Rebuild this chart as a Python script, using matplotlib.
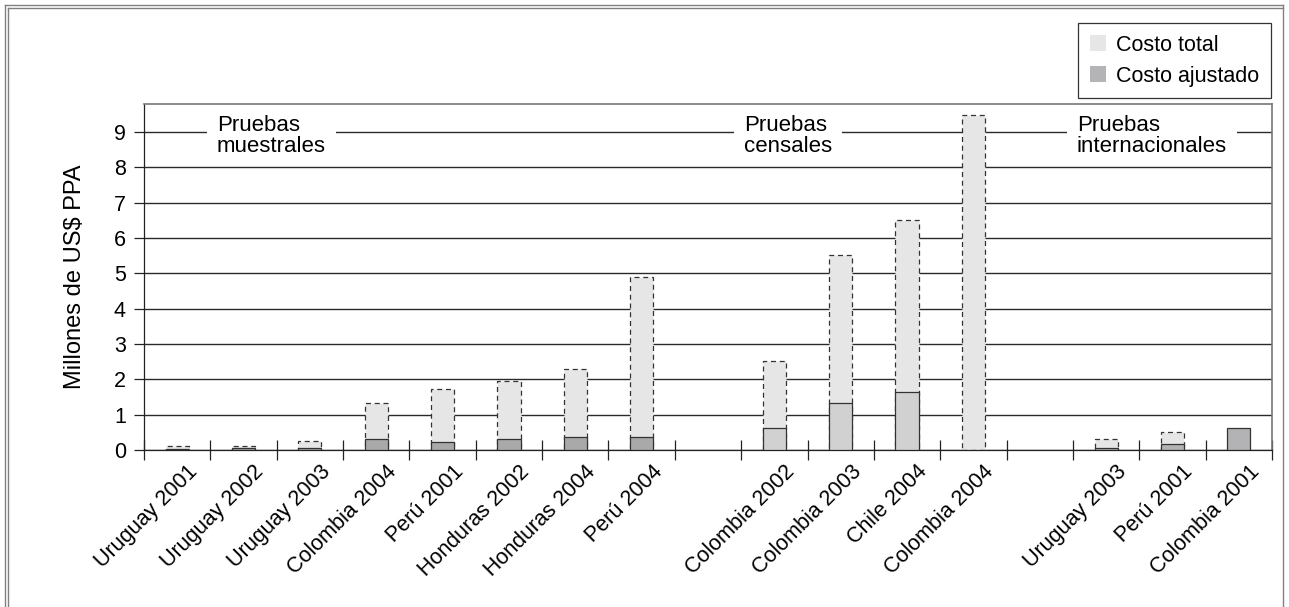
import matplotlib.pyplot as plt
import matplotlib.transforms as mtransforms
from matplotlib.patches import Patch
from matplotlib.lines import Line2D
import numpy as np

plt.rcParams['font.family'] = ['Liberation Sans', 'DejaVu Sans']

# Slot positions: 8 sample tests, gap, 4 census tests, gap, 3 international
slots = [0, 1, 2, 3, 4, 5, 6, 7, 9, 10, 11, 12, 14, 15, 16]
labels = ['Uruguay 2001', 'Uruguay 2002', 'Uruguay 2003', 'Colombia 2004',
          'Perú 2001', 'Honduras 2002', 'Honduras 2004', 'Perú 2004',
          'Colombia 2002', 'Colombia 2003', 'Chile 2004', 'Colombia 2004',
          'Uruguay 2003', 'Perú 2001', 'Colombia 2001']
costo_total = [0.10, 0.10, 0.26, 1.32, 1.72, 1.95, 2.28, 4.90,
               2.53, 5.52, 6.52, 9.48,
               0.31, 0.50, 0.61]
costo_ajustado = [0.02, 0.06, 0.06, 0.32, 0.22, 0.32, 0.37, 0.37,
                  0.61, 1.33, 1.63, 0.0,
                  0.05, 0.16, 0.61]
grupo = ['m'] * 8 + ['c'] * 4 + ['i'] * 3

col_total = '#e6e6e7'
col_adj = {'m': '#a9a9aa', 'c': '#d1d1d2', 'i': '#b3b3b5'}

W, H = 1289, 607
fig = plt.figure(figsize=(W / 100, H / 100), dpi=100)
ax = fig.add_axes([144 / W, 1 - 450 / H, (1272 - 144) / W, (450 - 104) / H])

w = 0.35
for x, t, a, g in zip(slots, costo_total, costo_ajustado, grupo):
    if t > a:
        ax.bar(x, t, width=w, color=col_total, edgecolor='#333333',
               linestyle=(0, (4, 3)), linewidth=0.9, zorder=2)
    if a > 0:
        ax.bar(x, a, width=w, color=col_adj[g], edgecolor='#333333',
               linewidth=0.9, zorder=3)

ax.set_xlim(-0.5, 16.5)
ax.set_ylim(0, 9.79)
ax.set_yticks(range(0, 10))
ax.yaxis.grid(True, color='#2a2a2a', linewidth=1.0)
ax.set_axisbelow(True)

ax.set_xticks(slots)
ax.set_xticklabels(labels, rotation=45, ha='right', rotation_mode='anchor',
                   fontsize=15.5)
ax.set_xticks(np.arange(-0.5, 17, 1), minor=True)
ax.tick_params(axis='x', which='major', length=0, pad=8)
ax.tick_params(axis='x', which='minor', direction='inout', length=14,
               width=0.9, color='#222222')
ax.tick_params(axis='y', direction='out', length=7, width=0.9,
               labelsize=15.5, color='#222222', pad=6)
ax.set_ylabel('Millones de US$ PPA', fontsize=17, labelpad=20)

# nudge the slanted labels to the right (after tick_params, which resets transforms)
shift = mtransforms.ScaledTranslation(10 / 100, 0, fig.dpi_scale_trans)
for lab in ax.get_xticklabels():
    lab.set_transform(lab.get_transform() + shift)

for side in ['left', 'bottom']:
    ax.spines[side].set_color('#222222')
    ax.spines[side].set_linewidth(0.9)
for side in ['top', 'right']:
    ax.spines[side].set_color('#777777')
    ax.spines[side].set_linewidth(1.2)

# Group headers sit on top of the gridlines with a white box
txt_kw = dict(fontsize=16, va='top', ha='left', linespacing=0.95, zorder=4,
              bbox=dict(facecolor='white', edgecolor='none', pad=7))
ax.text(0.60, 9.47, 'Pruebas\nmuestrales', **txt_kw)
ax.text(8.54, 9.47, 'Pruebas\ncensales', **txt_kw)
ax.text(13.56, 9.47, 'Pruebas\ninternacionales', **txt_kw)

handles = [Patch(facecolor=col_total, edgecolor='none', label='Costo total'),
           Patch(facecolor='#b4b4b7', edgecolor='none', label='Costo ajustado')]
leg = fig.legend(handles=handles, loc='upper right',
                 bbox_to_anchor=(1271 / W, 1 - 23 / H), fontsize=15.5,
                 fancybox=False, edgecolor='#333333', framealpha=1,
                 handlelength=0.75, handleheight=0.75, handletextpad=0.45,
                 labelspacing=0.45, borderpad=0.55, borderaxespad=0)
leg.get_frame().set_linewidth(0.9)

# Page frame: double rule on left and top, single rule on the right
frame = dict(color='#808080', linewidth=1.0, transform=fig.transFigure)
for off in (5, 8):
    fig.add_artist(Line2D([off / W, off / W], [0, 1 - off / H], **frame))
    fig.add_artist(Line2D([off / W, 1283 / W], [1 - off / H, 1 - off / H], **frame))
fig.add_artist(Line2D([1283 / W, 1283 / W], [0, 1 - 5 / H], **frame))

fig.savefig('out.png', dpi=100)
